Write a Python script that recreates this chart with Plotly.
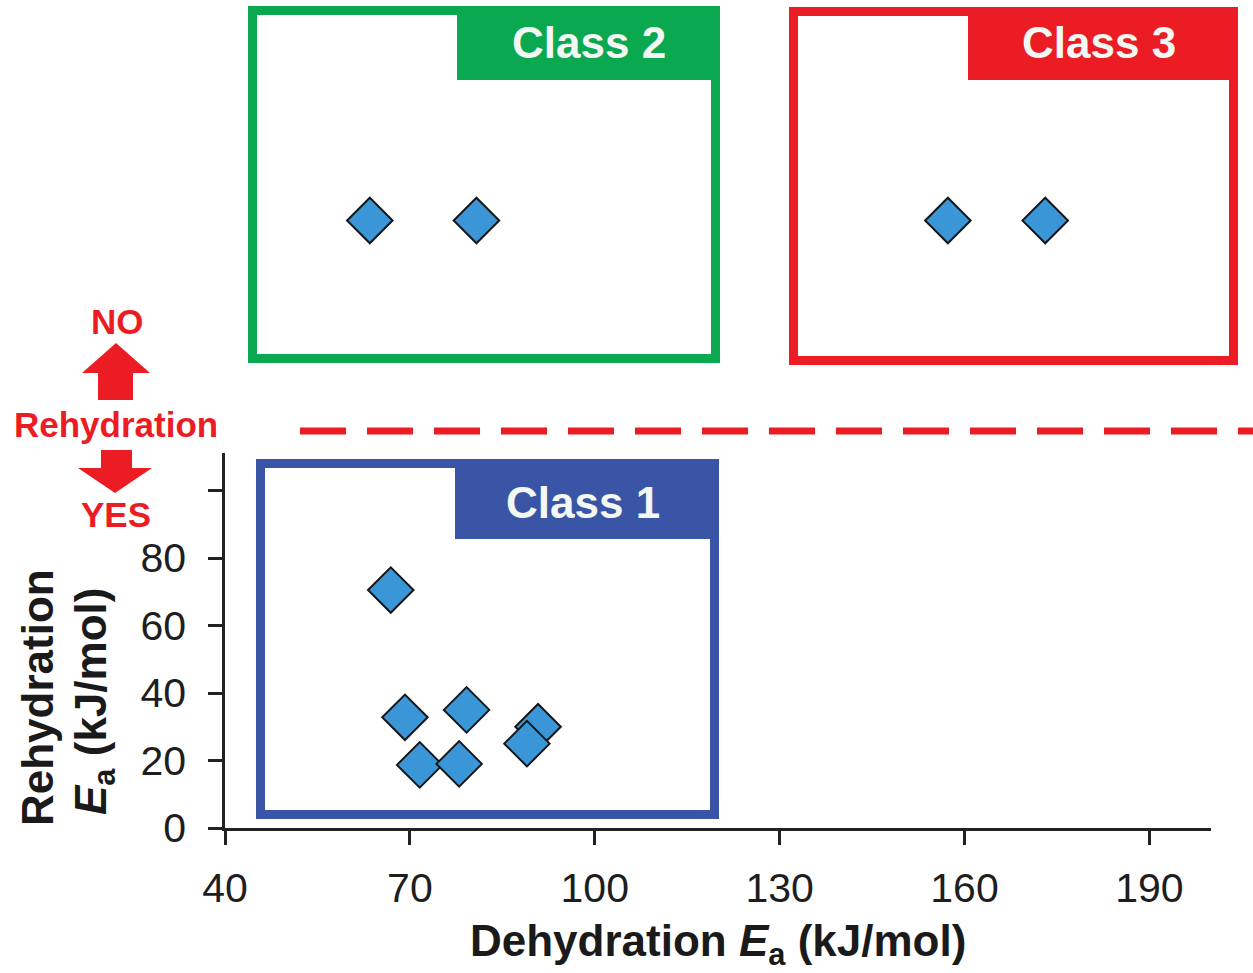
import plotly.graph_objects as go

# Class 1: materials that rehydrate (dehydration Ea, rehydration Ea) in kJ/mol
class1_dehyd = [66.9, 69.2, 79.2, 71.6, 78.0, 90.8, 89.0]
class1_rehyd = [70.5, 32.8, 35.0, 18.7, 19.0, 30.0, 25.0]

# Classes 2 and 3: no rehydration, shown in the upper band at a nominal height
class2_dehyd = [63.5, 80.8]
class3_dehyd = [157.3, 173.1]
no_rehyd_level = 180.0

x_ticks = [40, 70, 100, 130, 160, 190]
y_ticks = [0, 20, 40, 60, 80]
y_minor_ticks = [100]

W, H = 1253, 973
L, R, T, B = 225, 42, 0, 145
PW, PH = W - L - R, H - T - B
Y_AXIS_TOP_PX = 453          # where the lower axis stops
PX_PER_UNIT_Y = 3.375

def px(x):
    return (x - L) / PW

def py(y):
    return (H - B - y) / PH

FONT = "Arial, Liberation Sans, sans-serif"
BLUE = "#3a55a6"
GREEN = "#0aa84f"
RED = "#ec1c24"
MARKER_FILL = "#3a96d6"
INK = "#222222"

marker = dict(symbol="diamond", size=35, color=MARKER_FILL,
              line=dict(color="#161616", width=2))

fig = go.Figure()
fig.add_trace(go.Scatter(x=class1_dehyd, y=class1_rehyd, mode="markers",
                         marker=marker, xaxis="x", yaxis="y", showlegend=False,
                         cliponaxis=False))
fig.add_trace(go.Scatter(x=class2_dehyd + class3_dehyd,
                         y=[no_rehyd_level] * (len(class2_dehyd) + len(class3_dehyd)),
                         mode="markers", marker=marker, xaxis="x", yaxis="y2",
                         showlegend=False, cliponaxis=False))

split = py(Y_AXIS_TOP_PX)
y_top = (H - B - Y_AXIS_TOP_PX) / PX_PER_UNIT_Y
y2_top = (H - B - T) / PX_PER_UNIT_Y

shapes = []

def class_box(x0, y0, x1, y1, hx0, hy1, color):
    lw = 9
    shapes.append(dict(type="rect", xref="paper", yref="paper",
                       x0=px(x0 + lw / 2), x1=px(x1 - lw / 2),
                       y0=py(y0 + lw / 2), y1=py(y1 - lw / 2),
                       line=dict(color=color, width=lw),
                       fillcolor="rgba(0,0,0,0)"))
    shapes.append(dict(type="rect", xref="paper", yref="paper",
                       x0=px(hx0), x1=px(x1), y0=py(y0), y1=py(hy1),
                       line=dict(width=0), fillcolor=color))

class_box(256, 459, 719, 819, 455, 539, BLUE)
class_box(248, 6, 720, 363, 457, 80, GREEN)
class_box(789, 7, 1238, 365, 968, 80, RED)

# rehydration threshold
shapes.append(dict(type="line", xref="paper", yref="paper",
                   x0=px(300), x1=px(1253), y0=py(431), y1=py(431),
                   line=dict(color=RED, width=7, dash="46px,21px")))

def poly(points):
    d = "M " + " L ".join(f"{px(a):.5f},{py(b):.5f}" for a, b in points) + " Z"
    return dict(type="path", xref="paper", yref="paper", path=d,
                fillcolor=RED, line=dict(width=0))

# up arrow (NO) and down arrow (YES)
shapes.append(poly([(98, 400), (98, 373), (82, 373), (116, 343),
                    (150, 373), (133, 373), (133, 400)]))
shapes.append(poly([(101, 450), (132, 450), (132, 468), (152, 468),
                    (115, 493), (78, 468), (101, 468)]))

annotations = []

def label(text, x, y, size, color, angle=0, bold=True):
    annotations.append(dict(text=f"<b>{text}</b>" if bold else text,
                            xref="paper", yref="paper", x=px(x), y=py(y),
                            xanchor="center", yanchor="middle", showarrow=False,
                            textangle=angle,
                            font=dict(family=FONT, size=size, color=color)))

label("Class 1", 583, 502, 44, "#f4f8f4")
label("Class 2", 589, 42, 44, "#f4f8f4")
label("Class 3", 1099, 42, 44, "#f4f8f4")

label("NO", 117, 322, 35, RED)
label("Rehydration", 116, 424, 35, RED)
label("YES", 116, 514, 35, RED)

label("Rehydration", 37, 698, 44, "#1a1a1a", angle=-90)
label("<i>E</i><sub>a</sub> (kJ/mol)", 94, 702, 44, "#1a1a1a", angle=-90)
label("Dehydration <i>E</i><sub>a</sub> (kJ/mol)", 718, 944, 44, "#1a1a1a")

tick_style = dict(ticks="outside", ticklen=14, tickwidth=2.5, tickcolor=INK,
                  showline=True, linewidth=2.5, linecolor=INK,
                  showgrid=False, zeroline=False,
                  tickfont=dict(family=FONT, size=41, color="#1e1e1e"))

fig.update_layout(
    width=W, height=H,
    margin=dict(l=L, r=R, t=T, b=B),
    paper_bgcolor="white", plot_bgcolor="white",
    shapes=shapes, annotations=annotations,
    font=dict(family=FONT, size=40, color=INK),
    xaxis=dict(range=[40, 200], tickvals=x_ticks, anchor="y",
               ticklabelstandoff=8, **tick_style),
    yaxis=dict(range=[0, y_top], domain=[0, split], tickvals=y_ticks,
               anchor="x", ticklabelstandoff=14,
               minor=dict(tickvals=y_minor_ticks, ticks="outside", ticklen=14,
                          tickwidth=2.5, tickcolor=INK, showgrid=False),
               **tick_style),
    yaxis2=dict(range=[y_top, y2_top], domain=[split, 1], anchor="x",
                visible=False, showgrid=False, zeroline=False),
)

fig.write_html("out.html")
